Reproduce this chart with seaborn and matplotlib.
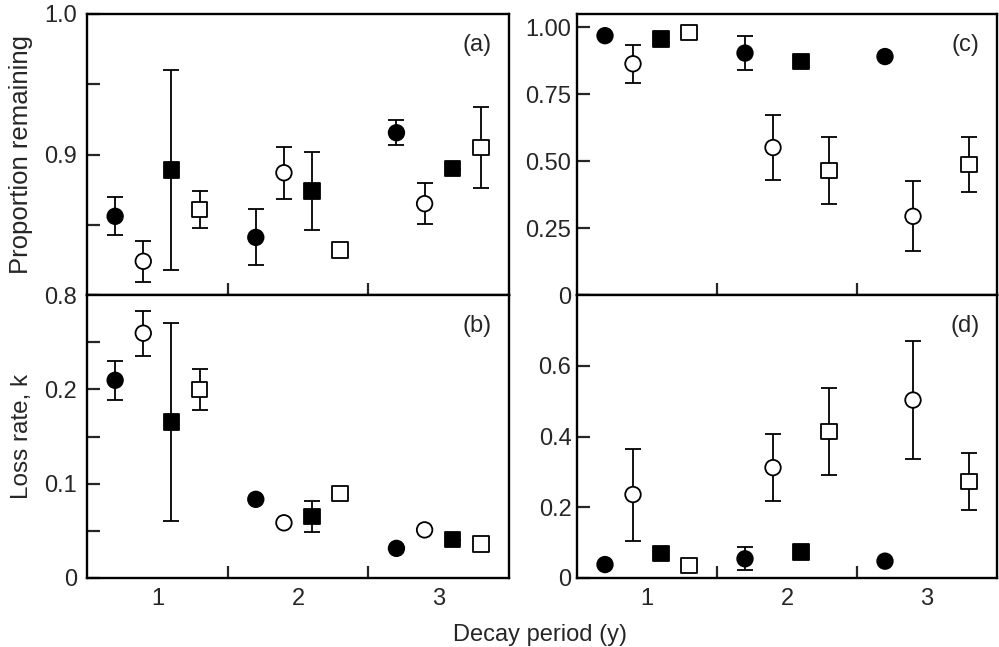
import numpy as np
import pandas as pd
import matplotlib
matplotlib.use("Agg")
import matplotlib.pyplot as plt
from matplotlib.ticker import FixedLocator
import seaborn as sns

# decay periods and the four litter series (closed/open circle, closed/open square)
years = [1, 2, 3]
series = ["closed circle", "open circle", "closed square", "open square"]
dodge = [-0.3, -0.1, 0.1, 0.3]

# (a) proportion remaining, rows follow `series`, columns follow `years`
prop_a = [[0.856, 0.841, 0.9155],
          [0.824, 0.887, 0.865],
          [0.889, 0.874, 0.890],
          [0.861, 0.832, 0.905]]
prop_a_err = [[0.0135, 0.020, 0.009],
              [0.0145, 0.0185, 0.0145],
              [0.071, 0.0277, 0.0],
              [0.013, 0.0, 0.029]]

# (b) loss rate k
k_b = [[0.2096, 0.0834, 0.0314],
       [0.2595, 0.0585, 0.051],
       [0.1654, 0.0652, 0.0406],
       [0.200, 0.0895, 0.036]]
k_b_err = [[0.0205, 0.0, 0.0],
           [0.0237, 0.0, 0.0],
           [0.105, 0.0165, 0.0],
           [0.0218, 0.0, 0.0]]

# (c) proportion remaining
prop_c = [[0.969, 0.904, 0.891],
          [0.864, 0.551, 0.294],
          [0.956, 0.8725, np.nan],
          [0.981, 0.466, 0.4875]]
prop_c_err = [[0.0, 0.064, 0.0],
              [0.071, 0.12, 0.131],
              [0.0, 0.0, np.nan],
              [0.0, 0.126, 0.104]]

# (d) loss rate k
k_d = [[0.038, 0.0543, 0.0476],
       [0.236, 0.312, 0.503],
       [0.0686, 0.0733, np.nan],
       [0.035, 0.414, 0.273]]
k_d_err = [[0.0, 0.033, 0.0],
           [0.13, 0.094, 0.168],
           [0.0, 0.0, np.nan],
           [0.0, 0.123, 0.08]]


def to_long(values, errors):
    rows = []
    for i, name in enumerate(series):
        for j, yr in enumerate(years):
            rows.append({"series": name, "year": yr, "x": yr + dodge[i],
                         "value": values[i][j], "err": errors[i][j]})
    return pd.DataFrame(rows)


sns.set_style("ticks")
plt.rcParams["font.family"] = ["Liberation Sans", "DejaVu Sans"]
plt.rcParams["font.size"] = 17

palette = {"closed circle": "black", "open circle": "white",
           "closed square": "black", "open square": "white"}
markers = {"closed circle": "o", "open circle": "o",
           "closed square": "s", "open square": "s"}

fig = plt.figure(figsize=(9.99, 6.47), dpi=100)
W, H = 999, 647
lefts = [87 / W, 577 / W]
widths = [422 / W, 420 / W]
tops = [14, 295]
bots = [295, 578]

panels = [
    ("(a)", prop_a, prop_a_err, 0, 0, (0.8, 1.0), [0.8, 0.9, 1.0], ["0.8", "0.9", "1.0"], [0.85, 0.95]),
    ("(b)", k_b, k_b_err, 0, 1, (0, 0.3), [0, 0.1, 0.2], ["0", "0.1", "0.2"], [0.05, 0.15, 0.25]),
    ("(c)", prop_c, prop_c_err, 1, 0, (0, 1.05), [0, 0.25, 0.5, 0.75, 1.0],
     ["0", "0.25", "0.50", "0.75", "1.00"], []),
    ("(d)", k_d, k_d_err, 1, 1, (0, 0.8), [0, 0.2, 0.4, 0.6], ["0", "0.2", "0.4", "0.6"], []),
]

for tag, vals, errs, col, row, ylim, yt, ytl, yminor in panels:
    rect = [lefts[col], 1 - bots[row] / H, widths[col], (bots[row] - tops[row]) / H]
    ax = fig.add_axes(rect)
    df = to_long(vals, errs).dropna()

    ax.errorbar(df["x"], df["value"], yerr=df["err"], fmt="none", ecolor="black",
                elinewidth=1.3, capsize=6, capthick=1.3, zorder=2)
    sns.scatterplot(data=df, x="x", y="value", hue="series", style="series",
                    palette=palette, markers=markers, s=125, edgecolor="black",
                    linewidth=1.3, legend=False, ax=ax, zorder=3)

    ax.set_xlim(0.5, 3.5)
    ax.set_ylim(*ylim)
    ax.set_xticks(years)
    ax.set_xticklabels([str(y) for y in years] if row == 1 else [])
    ax.xaxis.set_minor_locator(FixedLocator([1.5, 2.5]))
    ax.set_yticks(yt)
    ax.set_yticklabels(ytl)
    ax.yaxis.set_minor_locator(FixedLocator(yminor))
    ax.tick_params(axis="x", which="major", length=0, pad=7, labelsize=17)
    ax.tick_params(axis="x", which="minor", direction="in", length=9, width=1.6)
    ax.tick_params(axis="y", which="both", direction="in", length=9, width=1.6,
                   pad=7 if col == 0 else 4, labelsize=17)
    for sp in ax.spines.values():
        sp.set_linewidth(1.7)
        sp.set_color("black")
    ax.set_xlabel("")
    ax.set_ylabel("")
    ax.text(0.925, 0.89, tag, transform=ax.transAxes, ha="center", va="center", fontsize=17)

    if col == 0:
        if row == 0:
            ax.set_ylabel("Proportion remaining", fontsize=18.5)
        else:
            ax.set_ylabel("Loss rate, k", fontsize=17.5)
        ax.yaxis.set_label_coords(-0.128, 0.5)

fig.text(540 / W, 1 - 635 / H, "Decay period (y)", ha="center", va="center", fontsize=17)

fig.savefig("out.png", dpi=100)
